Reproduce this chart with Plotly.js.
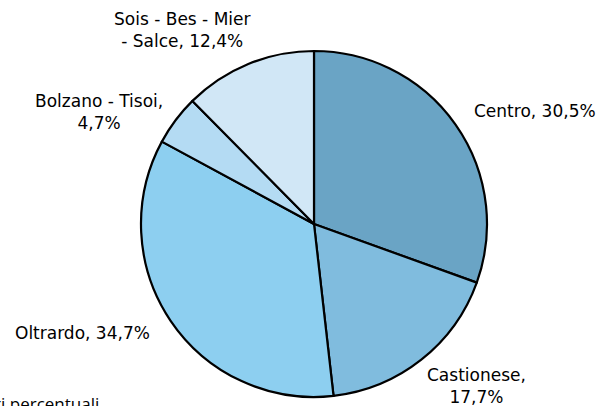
<!DOCTYPE html>
<html>
<head>
<meta charset="utf-8">
<script src="https://cdn.plot.ly/plotly-3.0.1.min.js"></script>
<style>
html,body{margin:0;padding:0;background:#fff;}
#chart{width:602px;height:406px;}
</style>
</head>
<body>
<div id="chart"></div>
<script>
// Data
const categories = ["Centro", "Castionese", "Oltrardo", "Bolzano - Tisoi", "Sois - Bes - Mier - Salce"];
const values = [30.5, 17.7, 34.7, 4.7, 12.4];
const labelText = ["Centro, 30,5%", "Castionese,<br>17,7%", "Oltrardo, 34,7%", "Bolzano - Tisoi,<br>4,7%", "Sois - Bes - Mier<br>- Salce, 12,4%"];
const noteText = "Valori percentuali";

// Styles / label placement (pixels)
const colors = ["#6aa4c5", "#80bcde", "#8dcff0", "#b4dbf3", "#d1e7f6"];
const labelPos = [[535, 111], [476, 386], [83, 333], [99, 112], [182, 30]];

const W = 602, H = 406;
const annotations = labelText.map((t, i) => ({
  text: t, xref: "paper", yref: "paper",
  x: labelPos[i][0] / W, y: 1 - labelPos[i][1] / H,
  xanchor: "center", yanchor: "middle", showarrow: false, align: "center",
  font: {family: "DejaVu Sans", size: 17, color: "#000"}
}));
annotations.push({
  text: noteText, xref: "paper", yref: "paper",
  x: 101 / W, y: 1 - 403 / H, xanchor: "right", yanchor: "middle",
  showarrow: false, font: {family: "Open Sans", size: 17, color: "#000"}
});

const trace = {
  type: "pie",
  labels: categories,
  values: values,
  sort: false,
  direction: "clockwise",
  rotation: 0,
  textinfo: "none",
  hoverinfo: "label+percent",
  marker: {colors: colors, line: {color: "#000", width: 2.2}},
  domain: {x: [140 / W, 488 / W], y: [1 - 397 / H, 1 - 51 / H]},
  showlegend: false
};

Plotly.newPlot("chart", [trace], {
  width: W, height: H,
  margin: {l: 0, r: 0, t: 0, b: 0},
  paper_bgcolor: "#fff",
  showlegend: false,
  annotations: annotations
}, {displayModeBar: false, staticPlot: true});
</script>
</body>
</html>
